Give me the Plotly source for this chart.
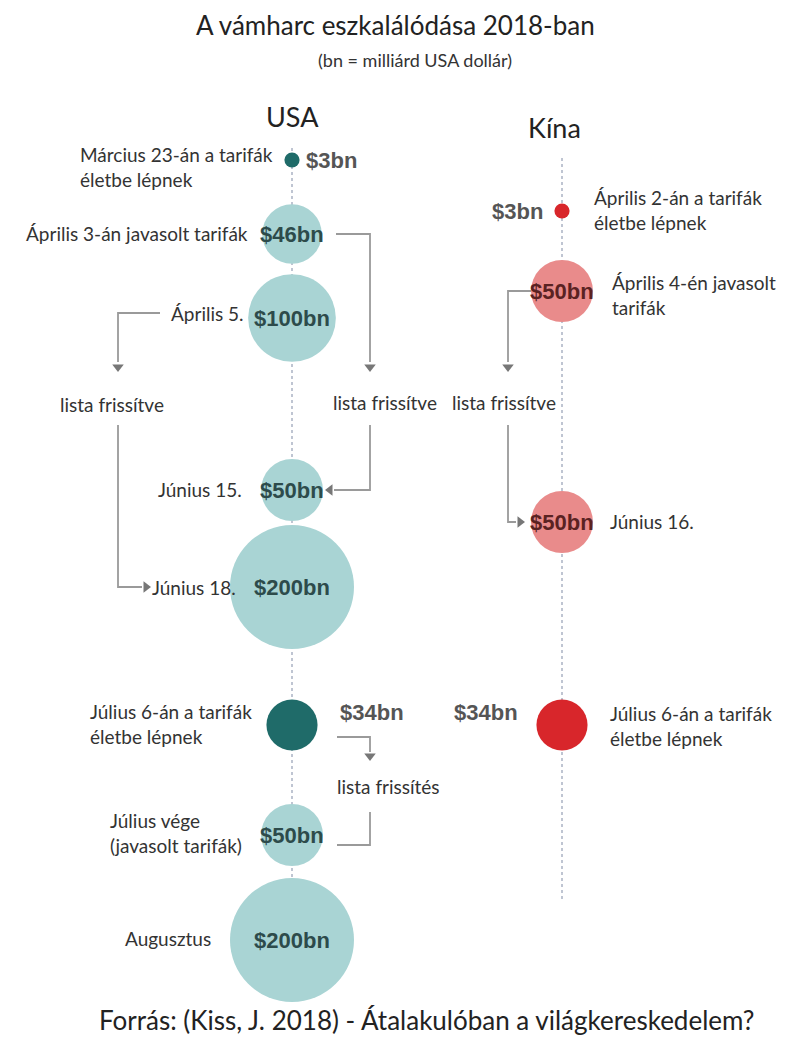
import plotly.graph_objects as go

# ---------------- DATA ----------------
title_text = "A vámharc eszkalálódása 2018-ban"
subtitle_text = "(bn = milliárd USA dollár)"
source_text = "Forrás: (Kiss, J. 2018) - Átalakulóban a világkereskedelem?"
countries = ["USA", "Kína"]

usa_dates = ["Március 23-án a tarifák<br>életbe lépnek",
             "Április 3-án javasolt tarifák",
             "Április 5.",
             "Június 15.",
             "Június 18.",
             "Július 6-án a tarifák<br>életbe lépnek",
             "Július vége<br>(javasolt tarifák)",
             "Augusztus"]
usa_values = [3, 46, 100, 50, 200, 34, 50, 200]
usa_enacted = [True, False, False, False, False, True, False, False]

china_dates = ["Április 2-án a tarifák<br>életbe lépnek",
               "Április 4-én javasolt<br>tarifák",
               "Június 16.",
               "Július 6-án a tarifák<br>életbe lépnek"]
china_values = [3, 50, 50, 34]
china_enacted = [True, False, False, True]

update_labels = ["lista frissítve", "lista frissítve", "lista frissítve", "lista frissítés"]

# ---------------- LAYOUT / STYLE ----------------
W, H = 787, 1043
OFF = 8  # page body margin compensation
USA_X, CN_X = 292, 562
USA_Y = [160, 234, 318, 490, 587, 725, 835, 940]
CN_Y = [211, 291, 522, 725]
SIZEREF = 2.0 * 200 / 124 ** 2

USA_DARK, USA_LIGHT = "#1f6b69", "#a9d4d4"
CN_DARK, CN_LIGHT = "#d8262b", "#e98b8b"
USA_TXT, CN_TXT = "#2d4b4b", "#5a2222"
GRAY_TXT = "#555555"
LINE_C = "#9a9a9a"
ARROW_C = "#777777"
TEXT_FONT = "Lato"
NUM_FONT = "Liberation Sans"
LBL = 19

usa_date_pos = [(78, 167, "left"), (250, 233, "right"), (246, 313, "right"),
                (244, 489, "right"), (150, 587, "left"), (88, 724, "left"),
                (108, 833, "left"), (123, 938, "left")]
cn_date_pos = [(592, 210, "left"), (610, 295, "left"), (608, 521, "left"),
               (608, 726, "left")]
usa_out_pos = {0: (331, 160), 5: (372, 712)}
cn_out_pos = {0: (517, 211), 3: (486, 712)}
update_pos = [(112, 404), (385, 402), (504, 402), (388, 786)]

fig = go.Figure()

fig.add_trace(go.Scatter(x=[USA_X, USA_X], y=[148, 1002], mode="lines",
                         line=dict(color="#aab2c4", width=1.5, dash="dot"),
                         hoverinfo="skip", showlegend=False))
fig.add_trace(go.Scatter(x=[CN_X, CN_X], y=[158, 900], mode="lines",
                         line=dict(color="#aab2c4", width=1.5, dash="dot"),
                         hoverinfo="skip", showlegend=False))

connectors = [
    ([USA_X + 44, 370, 370], [USA_Y[1], USA_Y[1], 362]),
    ([370, 370, USA_X + 42], [425, USA_Y[3], USA_Y[3]]),
    ([160, 118, 118], [313, 313, 362]),
    ([118, 118, 142], [425, USA_Y[4], USA_Y[4]]),
    ([CN_X - 30, 508, 508], [CN_Y[1], CN_Y[1], 362]),
    ([508, 508, 516], [425, CN_Y[2], CN_Y[2]]),
    ([337, 370, 370], [737, 737, 752]),
    ([370, 370, 337], [812, 845, 845]),
]
for cx, cy in connectors:
    fig.add_trace(go.Scatter(x=cx, y=cy, mode="lines",
                             line=dict(color=LINE_C, width=1.8),
                             hoverinfo="skip", showlegend=False))

arrows = [(370, 367, "triangle-down"), (USA_X + 38, USA_Y[3], "triangle-left"),
          (118, 367, "triangle-down"), (146, USA_Y[4], "triangle-right"),
          (508, 367, "triangle-down"), (520, CN_Y[2], "triangle-right"),
          (370, 756, "triangle-down")]
fig.add_trace(go.Scatter(x=[a[0] for a in arrows], y=[a[1] for a in arrows],
                         mode="markers",
                         marker=dict(symbol=[a[2] for a in arrows], size=10,
                                     color=ARROW_C),
                         hoverinfo="skip", showlegend=False))

fig.add_trace(go.Scatter(
    x=[USA_X] * len(usa_values), y=USA_Y, mode="markers",
    marker=dict(size=usa_values, sizemode="area", sizeref=SIZEREF, opacity=1,
                color=[USA_DARK if e else USA_LIGHT for e in usa_enacted],
                line=dict(width=0)),
    name=countries[0], showlegend=False))
fig.add_trace(go.Scatter(
    x=[CN_X] * len(china_values), y=CN_Y, mode="markers",
    marker=dict(size=china_values, sizemode="area", sizeref=SIZEREF, opacity=1,
                color=[CN_DARK if e else CN_LIGHT for e in china_enacted],
                line=dict(width=0)),
    name=countries[1], showlegend=False))

ann = []
ann.append(dict(x=395, y=25, text=title_text, showarrow=False,
                font=dict(family=TEXT_FONT, size=26, color="#222")))
ann.append(dict(x=415, y=60, text=subtitle_text, showarrow=False,
                font=dict(family=TEXT_FONT, size=18, color="#333")))
ann.append(dict(x=USA_X, y=116, text=countries[0], showarrow=False,
                font=dict(family=TEXT_FONT, size=27, color="#222")))
ann.append(dict(x=CN_X - 8, y=127, text=countries[1], showarrow=False,
                font=dict(family=TEXT_FONT, size=27, color="#222")))
ann.append(dict(x=426, y=1020, text=source_text, showarrow=False,
                font=dict(family=TEXT_FONT, size=26, color="#222")))

for txt, (x, y, xa) in zip(usa_dates, usa_date_pos):
    ann.append(dict(x=x, y=y, text=txt, showarrow=False, xanchor=xa, align="left",
                    font=dict(family=TEXT_FONT, size=LBL, color="#333")))
for txt, (x, y, xa) in zip(china_dates, cn_date_pos):
    ann.append(dict(x=x, y=y, text=txt, showarrow=False, xanchor=xa, align="left",
                    font=dict(family=TEXT_FONT, size=LBL, color="#333")))

for i, (v, e) in enumerate(zip(usa_values, usa_enacted)):
    if e:
        x, y = usa_out_pos[i]
        col = GRAY_TXT
    else:
        x, y = USA_X, USA_Y[i]
        col = USA_TXT
    ann.append(dict(x=x, y=y, text=f"<b>${v}bn</b>", showarrow=False,
                    font=dict(family=NUM_FONT, size=22, color=col)))
for i, (v, e) in enumerate(zip(china_values, china_enacted)):
    if e:
        x, y = cn_out_pos[i]
        col = GRAY_TXT
    else:
        x, y = CN_X, CN_Y[i]
        col = CN_TXT
    ann.append(dict(x=x, y=y, text=f"<b>${v}bn</b>", showarrow=False,
                    font=dict(family=NUM_FONT, size=22, color=col)))

for txt, (x, y) in zip(update_labels, update_pos):
    ann.append(dict(x=x, y=y, text=txt, showarrow=False,
                    font=dict(family=TEXT_FONT, size=LBL, color="#333")))

fig.update_layout(
    width=W, height=H, margin=dict(l=0, r=0, t=0, b=0),
    paper_bgcolor="white", plot_bgcolor="white",
    xaxis=dict(range=[OFF, W + OFF], visible=False, fixedrange=True),
    yaxis=dict(range=[H + OFF, OFF], visible=False, fixedrange=True),
    annotations=ann, showlegend=False,
)

fig.write_html("out.html")
